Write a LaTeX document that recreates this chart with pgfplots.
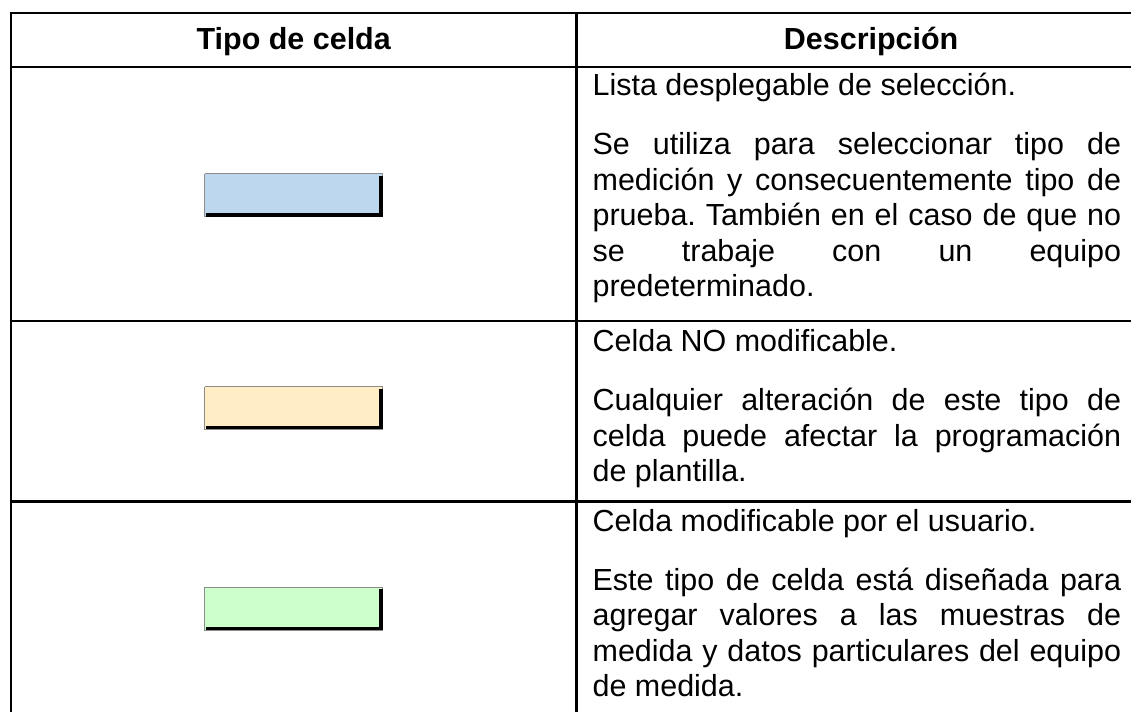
\documentclass[border=0pt]{standalone}
\usepackage{pgfplots}
\pgfplotsset{compat=1.18}
\usepackage{fontspec}
\setmainfont{Liberation Sans}
\frenchspacing
\definecolor{cblue}{RGB}{189,215,238}
\definecolor{cyellow}{RGB}{255,237,198}
\definecolor{cgreen}{RGB}{204,255,204}
\definecolor{cgray}{RGB}{140,140,140}
\newcommand\bt{\fontsize{30.5}{35}\selectfont}
\newcommand\jl[1]{\makebox[529pt][s]{#1}}
\begin{document}
\begin{tikzpicture}
\begin{axis}[hide axis, scale only axis, width=1132pt, height=713pt,
  xmin=0, xmax=1132, ymin=0, ymax=713, y dir=reverse, clip=false]
% invisible frame for bounding box
\addplot[draw=none] coordinates {(0,0) (1132,713)};
% table rules
\addplot[black, line width=2.2pt] coordinates {(11,713) (11,13)};
\addplot[black, line width=2.2pt] coordinates {(577,713) (577,13)};
\addplot[black, line width=2.2pt] coordinates {(10,13) (1132,13)};
\addplot[black, line width=2.2pt] coordinates {(10,67) (1132,67)};
\addplot[black, line width=2.2pt] coordinates {(10,321) (1132,321)};
\addplot[black, line width=2.2pt] coordinates {(10,502) (1132,502)};
% swatches
\addplot[fill=cblue, draw=cgray, line width=0.8pt] coordinates {(205,174) (383,174) (383,217) (205,217) (205,174)};
\addplot[black, line width=3.5pt] coordinates {(206,215) (381.5,215) (381.5,176)};
\addplot[fill=cyellow, draw=cgray, line width=0.8pt] coordinates {(205,387) (383,387) (383,430) (205,430) (205,387)};
\addplot[black, line width=3.5pt] coordinates {(206,428) (381.5,428) (381.5,389)};
\addplot[fill=cgreen, draw=cgray, line width=0.8pt] coordinates {(205,588) (383,588) (383,631) (205,631) (205,588)};
\addplot[black, line width=3.5pt] coordinates {(206,629) (381.5,629) (381.5,590)};
% header
\node[anchor=base, inner sep=0] at (axis cs:294,50) {\bt\bfseries Tipo de celda};
\node[anchor=base, inner sep=0] at (axis cs:872,50) {\bt\bfseries Descripción};
% row 1
\node[anchor=base west, inner sep=0] at (axis cs:593,96) {\bt Lista desplegable de selección.};
\node[anchor=base west, inner sep=0] at (axis cs:593,155) {\bt\jl{Se utiliza para seleccionar tipo de}};
\node[anchor=base west, inner sep=0] at (axis cs:593,190.5) {\bt\jl{medición y consecuentemente tipo de}};
\node[anchor=base west, inner sep=0] at (axis cs:593,226) {\bt\jl{prueba. También en el caso de que no}};
\node[anchor=base west, inner sep=0] at (axis cs:593,261.5) {\bt\jl{se trabaje con un equipo}};
\node[anchor=base west, inner sep=0] at (axis cs:593,297) {\bt predeterminado.};
% row 2
\node[anchor=base west, inner sep=0] at (axis cs:593,352) {\bt Celda NO modificable.};
\node[anchor=base west, inner sep=0] at (axis cs:593,411) {\bt\jl{Cualquier alteración de este tipo de}};
\node[anchor=base west, inner sep=0] at (axis cs:593,446.5) {\bt\jl{celda puede afectar la programación}};
\node[anchor=base west, inner sep=0] at (axis cs:593,482) {\bt de plantilla.};
% row 3
\node[anchor=base west, inner sep=0] at (axis cs:593,532) {\bt Celda modificable por el usuario.};
\node[anchor=base west, inner sep=0] at (axis cs:593,591) {\bt\jl{Este tipo de celda está diseñada para}};
\node[anchor=base west, inner sep=0] at (axis cs:593,626.5) {\bt\jl{agregar valores a las muestras de}};
\node[anchor=base west, inner sep=0] at (axis cs:593,662) {\bt\jl{medida y datos particulares del equipo}};
\node[anchor=base west, inner sep=0] at (axis cs:593,697.5) {\bt de medida.};
\end{axis}
\end{tikzpicture}
\end{document}
